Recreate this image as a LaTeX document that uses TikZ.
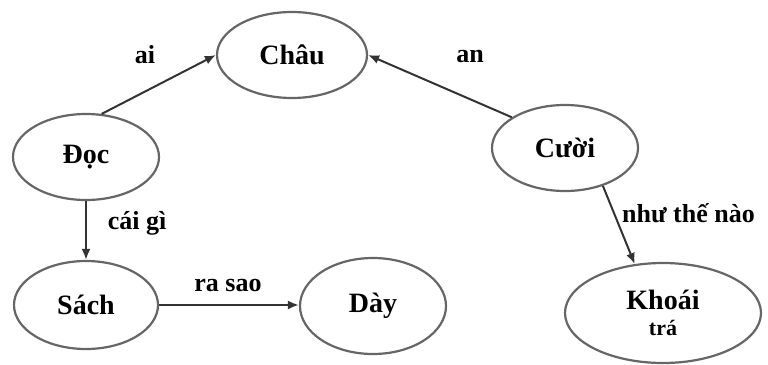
\documentclass[tikz,border=0pt]{standalone}
\usepackage{fontspec}
\setmainfont{Liberation Serif}
\usepackage{xcolor}
\usetikzlibrary{calc, shapes.geometric, positioning, arrows.meta}

\tikzset{
    yeuto/.style={ellipse, draw=black!60, line width=2.2pt, inner sep=0pt,
        font=\fontsize{28}{30}\selectfont\bfseries, align=center},
    nhan/.style={font=\fontsize{26}{28}\selectfont\bfseries, inner sep=0pt},
    noi/.style={-{Latex[length=11pt, width=9pt]}, draw=black!80, line width=2pt}
}

\begin{document}
\begin{tikzpicture}[x=1pt, y=-1pt]

    % =================================================================
    % 1. KHUNG HÌNH
    % =================================================================
    \useasboundingbox (0,0) rectangle (768,364);

    % =================================================================
    % 2. CÁC NÚT (HÌNH ELIP)
    % =================================================================
    \node[yeuto, minimum width=150pt, minimum height=86pt] (chau) at (292,55) {Châu};
    \node[yeuto, minimum width=146pt, minimum height=86pt] (doc) at (86,157) {Đọc};
    \node[yeuto, minimum width=146pt, minimum height=86pt] (cuoi) at (565,148) {Cười};
    \node[yeuto, minimum width=144pt, minimum height=88pt] (sach) at (86,305) {Sách};
    \node[yeuto, minimum width=146pt, minimum height=96pt] (day) at (373,306) {Dày};
    \node[yeuto, minimum width=196pt, minimum height=100pt] (khoai) at (663,313)
        {Khoái\\[-4pt]{\fontsize{22}{24}\selectfont trá}};

    % =================================================================
    % 3. CÁC MŨI TÊN VÀ NHÃN
    % =================================================================
    \draw[noi] (doc.70) -- (chau.west);
    \draw[noi] (cuoi.150) -- (chau.east);
    \draw[noi] (doc.south) -- (sach.north);
    \draw[noi] (sach.east) -- (sach.east -| day.west);
    \draw[noi] (cuoi.-45) -- (khoai.120);

    \node[nhan] (ai) at (145,55) {ai};
    \node[nhan] (an) at (470,57) {an};
    \node[nhan] (caigi) at (137,223) {cái gì};
    \node[nhan] (rasao) at (228,285) {ra sao};
    \node[nhan, anchor=west] (nhuthenao) at (622,213) {như thế nào};

\end{tikzpicture}
\end{document}
